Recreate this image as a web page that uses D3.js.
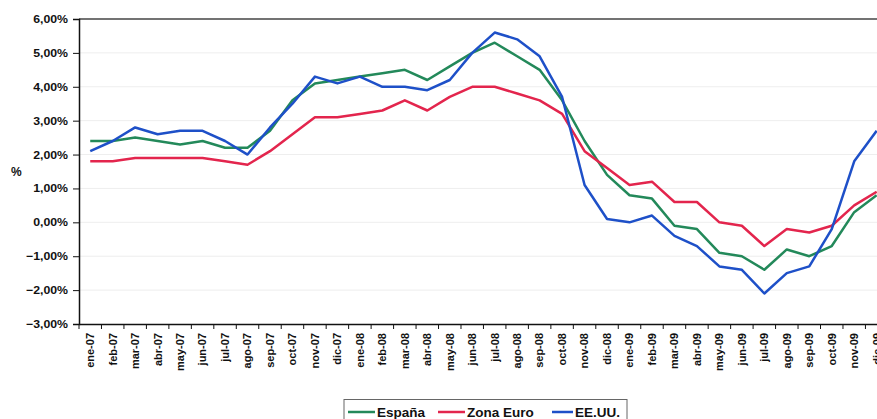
<!DOCTYPE html>
<html>
<head>
<meta charset="utf-8">
<script src="https://cdn.jsdelivr.net/npm/d3@7"></script>
<style>
  body { margin: 0; background: #fff; }
  text { font-family: "Liberation Sans", Arial, sans-serif; font-weight: bold; fill: #111; }
</style>
</head>
<body>
<svg id="chart" width="877" height="419"></svg>
<script>
// Months on the x axis
const months = [
  "ene-07","feb-07","mar-07","abr-07","may-07","jun-07","jul-07","ago-07","sep-07","oct-07","nov-07","dic-07",
  "ene-08","feb-08","mar-08","abr-08","may-08","jun-08","jul-08","ago-08","sep-08","oct-08","nov-08","dic-08",
  "ene-09","feb-09","mar-09","abr-09","may-09","jun-09","jul-09","ago-09","sep-09","oct-09","nov-09","dic-09"
];

// Inflation, % year on year
const espana = [2.4,2.4,2.5,2.4,2.3,2.4,2.2,2.2,2.7,3.6,4.1,4.2,
                4.3,4.4,4.5,4.2,4.6,5.0,5.3,4.9,4.5,3.6,2.4,1.4,
                0.8,0.7,-0.1,-0.2,-0.9,-1.0,-1.4,-0.8,-1.0,-0.7,0.3,0.8];
const zonaEuro = [1.8,1.8,1.9,1.9,1.9,1.9,1.8,1.7,2.1,2.6,3.1,3.1,
                  3.2,3.3,3.6,3.3,3.7,4.0,4.0,3.8,3.6,3.2,2.1,1.6,
                  1.1,1.2,0.6,0.6,0.0,-0.1,-0.7,-0.2,-0.3,-0.1,0.5,0.9];
const eeuu = [2.1,2.4,2.8,2.6,2.7,2.7,2.4,2.0,2.8,3.5,4.3,4.1,
              4.3,4.0,4.0,3.9,4.2,5.0,5.6,5.4,4.9,3.7,1.1,0.1,
              0.0,0.2,-0.4,-0.7,-1.3,-1.4,-2.1,-1.5,-1.3,-0.2,1.8,2.7];

const yTicks = [-3,-2,-1,0,1,2,3,4,5,6];

const series = [
  { name: "España", values: espana, color: "#23895a" },
  { name: "Zona Euro", values: zonaEuro, color: "#e3254d" },
  { name: "EE.UU.", values: eeuu, color: "#1e50c8" }
];

const svg = d3.select("#chart");
const plotLeft = 79, plotTop = 19, plotBottom = 324;
const bandW = 22.47;

const x = d3.scaleBand()
  .domain(months)
  .range([plotLeft, plotLeft + bandW * months.length]);

const y = d3.scaleLinear()
  .domain([-3, 6])
  .range([plotBottom, plotTop]);

const fmt = v => d3.format(".2f")(v).replace(".", ",") + "%";

// faint grid lines
svg.append("g")
  .selectAll("line")
  .data(yTicks.filter(d => d > -3 && d < 6))
  .join("line")
  .attr("x1", plotLeft).attr("x2", 877)
  .attr("y1", d => y(d)).attr("y2", d => y(d))
  .attr("stroke", "#eeeeee")
  .attr("stroke-width", 1);

// top border
svg.append("line")
  .attr("x1", plotLeft).attr("x2", 877)
  .attr("y1", plotTop).attr("y2", plotTop)
  .attr("stroke", "#444").attr("stroke-width", 1.5);

// y axis
const yAxis = svg.append("g")
  .attr("transform", `translate(${plotLeft},0)`)
  .call(d3.axisLeft(y).tickValues(yTicks).tickSize(6).tickPadding(5).tickFormat(fmt));
yAxis.select(".domain").attr("stroke", "#111").attr("stroke-width", 1.5);
yAxis.selectAll(".tick line").attr("stroke", "#111");
yAxis.selectAll(".tick text")
  .style("font-size", "11px")
  .attr("x", -11 / 1.12)
  .attr("transform", "scale(1.12,1)");

// x axis
const xAxis = svg.append("g")
  .attr("transform", `translate(0,${plotBottom})`)
  .call(d3.axisBottom(x).tickSize(0).tickFormat(d => d));
xAxis.select(".domain").attr("stroke", "#111").attr("stroke-width", 1.5);
xAxis.selectAll(".tick text")
  .style("font-size", "11px")
  .attr("text-anchor", "end")
  .attr("dy", "0.35em")
  .attr("y", 0)
  .attr("transform", "translate(0,9) rotate(-90)");

// x tick marks at band boundaries
svg.append("g")
  .selectAll("line")
  .data(months)
  .join("line")
  .attr("x1", d => x(d)).attr("x2", d => x(d))
  .attr("y1", plotBottom).attr("y2", plotBottom + 5)
  .attr("stroke", "#111");

// "%" axis title
svg.append("text")
  .attr("x", 11).attr("y", 176)
  .style("font-size", "12px")
  .text("%");

// lines
const line = d3.line()
  .x((d, i) => x(months[i]) + x.bandwidth() / 2)
  .y(d => y(d));

svg.append("g")
  .selectAll("path")
  .data(series)
  .join("path")
  .attr("d", d => line(d.values))
  .attr("fill", "none")
  .attr("stroke", d => d.color)
  .attr("stroke-width", 2.5)
  .attr("stroke-linejoin", "round");

// legend
const legend = svg.append("g");
legend.append("rect")
  .attr("x", 344).attr("y", 399.5)
  .attr("width", 283).attr("height", 30)
  .attr("fill", "#fff").attr("stroke", "#666").attr("stroke-width", 1);

const legendPos = [348, 438, 552];
const item = legend.selectAll("g.item")
  .data(series)
  .join("g")
  .attr("class", "item")
  .attr("transform", (d, i) => `translate(${legendPos[i]},0)`);
item.append("line")
  .attr("x1", 0).attr("x2", d => d.name === "EE.UU." ? 21 : 27)
  .attr("y1", 412).attr("y2", 412)
  .attr("stroke", d => d.color).attr("stroke-width", 2.5);
item.append("text")
  .attr("x", d => d.name === "EE.UU." ? 23 : 29)
  .attr("y", 417)
  .style("font-size", "13.5px")
  .text(d => d.name);
</script>
</body>
</html>
